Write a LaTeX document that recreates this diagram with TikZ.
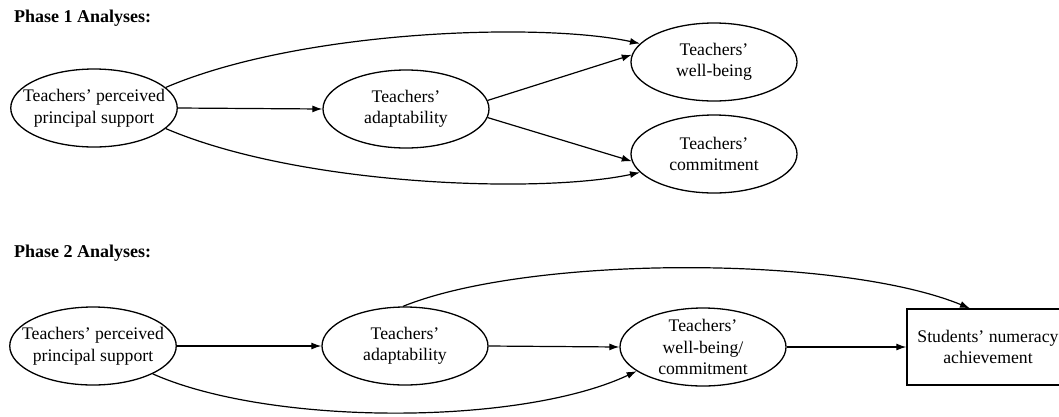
\documentclass[tikz,border=0pt]{standalone}
\usepackage{fontspec}
\setmainfont{Liberation Serif}
\usetikzlibrary{arrows.meta,shapes.geometric}
\begin{document}
\begin{tikzpicture}[x=1pt,y=-1pt,
  latent/.style={draw,ellipse,line width=1.3pt,minimum width=166pt,minimum height=78pt,inner xsep=-12pt,inner ysep=-2pt,align=center,font=\fontsize{17.7}{21.5}\selectfont},
  observed/.style={draw,rectangle,line width=1.3pt,minimum width=162pt,minimum height=76pt,inner sep=0pt,align=center,font=\fontsize{17.7}{21.5}\selectfont},
  heading/.style={anchor=west,inner sep=0pt,font=\bfseries\fontsize{18}{21}\selectfont},
  link/.style={line width=1.2pt,-{Latex[length=10pt,width=7pt]}}]
\useasboundingbox (0,0) rectangle (1059,416);
\clip (0,0) rectangle (1059,416);
% Phase 1
\node[heading] (h1) at (14,18) {Phase 1 Analyses:};
\node[latent] (pa) at (94,108) {Teachers’ perceived\\principal support};
\node[latent] (ad) at (406,109) {Teachers’\\adaptability};
\node[latent] (wb) at (714,62) {Teachers’\\well-being};
\node[latent] (cm) at (714,154) {Teachers’\\commitment};
\draw[link] (pa.east) -- (ad.west);
\draw[link] (ad.6) -- (wb.175);
\draw[link] (ad.-6) -- (cm.185);
\draw[link] (pa.16) .. controls (300,30) and (540,22) .. (wb.166);
\draw[link] (pa.-16) .. controls (300,186) and (540,194) .. (cm.194);
% Phase 2
\node[heading] (h2) at (14,253) {Phase 2 Analyses:};
\node[latent] (pb) at (93,346) {Teachers’ perceived\\principal support};
\node[latent] (ad2) at (405,346) {Teachers’\\adaptability};
\node[latent] (wc) at (703,347) {Teachers’\\well-being/\\commitment};
\node[observed] (st) at (988,347) {Students’ numeracy\\achievement};
\draw[link] (pb.east) -- (ad2.west);
\draw[link] (ad2.east) -- (wc.west);
\draw[link] (wc.east) -- (st.west);
\draw[link] (ad2.93) .. controls (530,255) and (840,255) .. (st.115);
\draw[link] (pb.-25) .. controls (270,426) and (520,426) .. (wc.200);
\end{tikzpicture}
\end{document}
